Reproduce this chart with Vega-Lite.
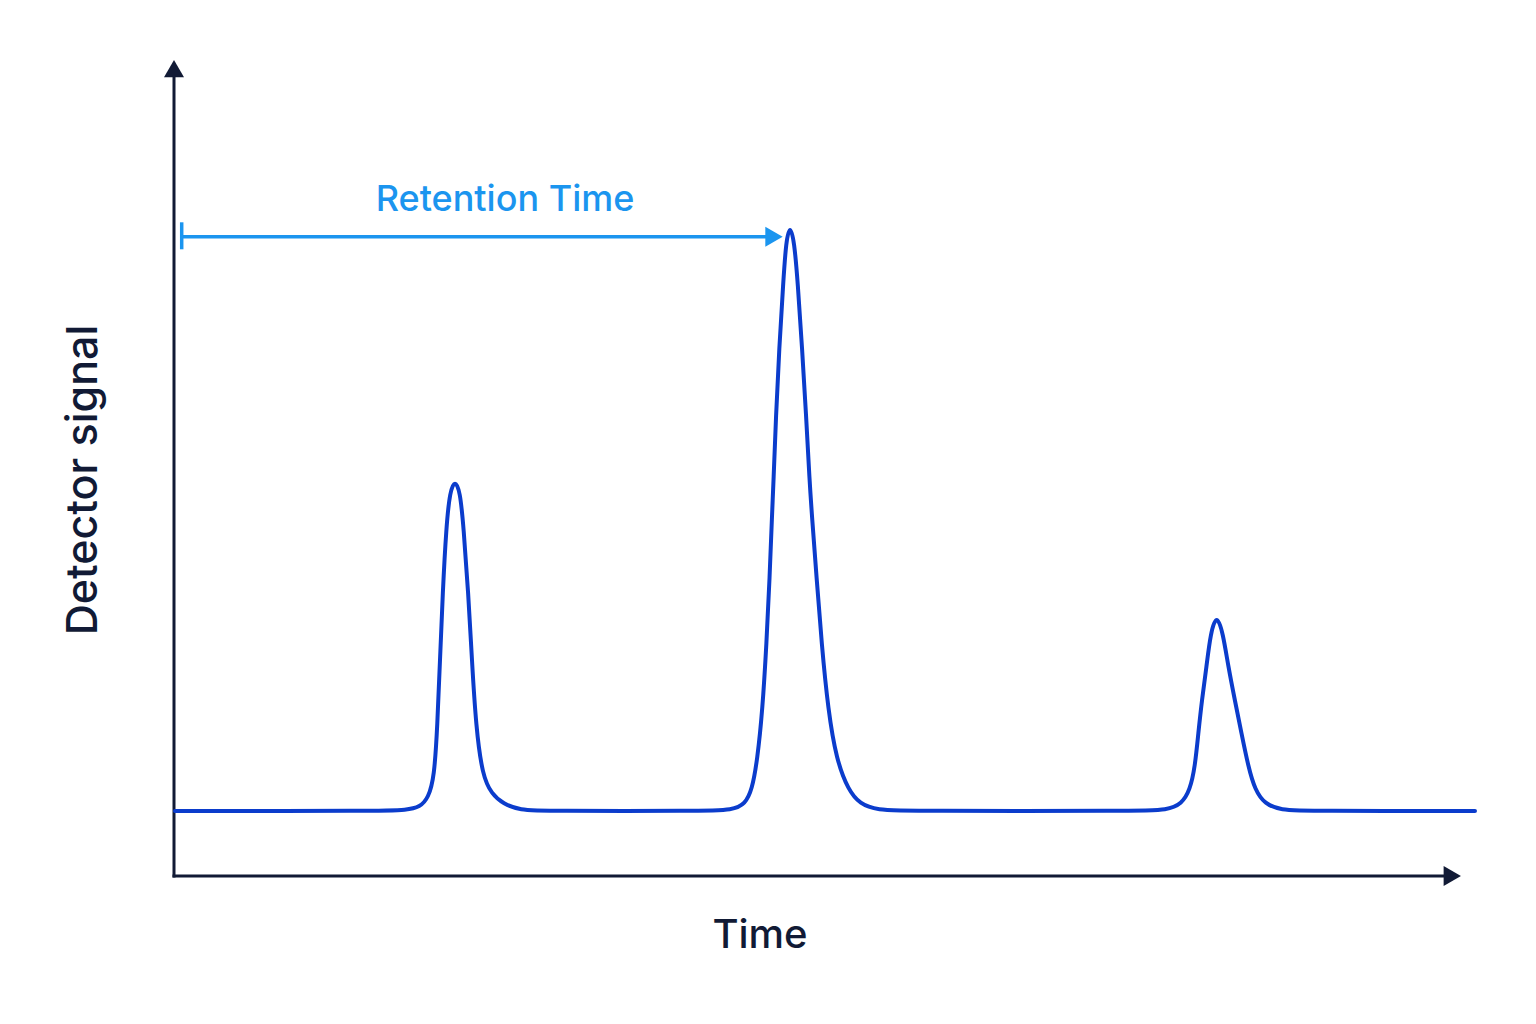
{
  "$schema": "https://vega.github.io/schema/vega-lite/v6.json",
  "width": 1301,
  "height": 816,
  "autosize": {"type": "none"},
  "padding": {"left": 174, "top": 60, "right": 61, "bottom": 148},
  "background": "#ffffff",
  "config": {"view": {"stroke": null}, "font": "Inter"},
  "datasets": {
    "signal": [
      {"t": 1, "s": 65}, {"t": 206, "s": 65}, {"t": 232.7, "s": 66}, {"t": 246, "s": 69},
      {"t": 254.3, "s": 78}, {"t": 260.3, "s": 99}, {"t": 263.3, "s": 149}, {"t": 266, "s": 216},
      {"t": 268.7, "s": 283}, {"t": 272.3, "s": 350}, {"t": 276, "s": 385}, {"t": 281, "s": 396},
      {"t": 286, "s": 385}, {"t": 289.5, "s": 350}, {"t": 294.3, "s": 283}, {"t": 297.9, "s": 216},
      {"t": 302, "s": 149}, {"t": 308.5, "s": 100}, {"t": 317.7, "s": 82}, {"t": 329.3, "s": 72},
      {"t": 346, "s": 66}, {"t": 371, "s": 65},
      {"t": 526, "s": 65}, {"t": 559.3, "s": 66}, {"t": 571, "s": 72}, {"t": 578, "s": 86},
      {"t": 583.3, "s": 116}, {"t": 588.5, "s": 166}, {"t": 592.5, "s": 232.7}, {"t": 595.7, "s": 299.3},
      {"t": 598, "s": 361}, {"t": 599.5, "s": 394}, {"t": 602, "s": 461}, {"t": 605.2, "s": 527.7},
      {"t": 609.3, "s": 594.3}, {"t": 612, "s": 634.3}, {"t": 616, "s": 652}, {"t": 620.3, "s": 634.3},
      {"t": 623.7, "s": 594.3}, {"t": 628.1, "s": 527.7}, {"t": 632.1, "s": 461}, {"t": 635.6, "s": 394},
      {"t": 637.9, "s": 361}, {"t": 642.5, "s": 299.3}, {"t": 647.6, "s": 232.7}, {"t": 654.1, "s": 166},
      {"t": 662.5, "s": 116}, {"t": 674.3, "s": 86}, {"t": 686, "s": 72}, {"t": 702.7, "s": 66},
      {"t": 736, "s": 65},
      {"t": 966, "s": 65}, {"t": 992.7, "s": 66}, {"t": 1007.7, "s": 72}, {"t": 1016, "s": 86},
      {"t": 1021, "s": 109.3}, {"t": 1024.3, "s": 142.7}, {"t": 1027.9, "s": 176}, {"t": 1032.5, "s": 209.3},
      {"t": 1036.5, "s": 242.7}, {"t": 1042.7, "s": 262.7}, {"t": 1049, "s": 242.7}, {"t": 1054.3, "s": 209.3},
      {"t": 1060.8, "s": 176}, {"t": 1067.5, "s": 142.7}, {"t": 1074.3, "s": 109.3}, {"t": 1081, "s": 86},
      {"t": 1091, "s": 72}, {"t": 1106, "s": 66}, {"t": 1136, "s": 65}, {"t": 1301, "s": 65}
    ],
    "axisLines": [
      {"t": 0, "s": 0, "t2": 1270, "s2": 0},
      {"t": 0, "s": 0, "t2": 0, "s2": 798}
    ],
    "axisHeads": [
      {"t": 1278.3, "s": 0, "dir": "x"},
      {"t": 0, "s": 807.3, "dir": "y"}
    ],
    "retention": [
      {"t": 7.7, "s": 639.3, "t2": 592, "s2": 639.3},
      {"t": 7.7, "s": 626.7, "t2": 7.7, "s2": 653.7}
    ],
    "retentionHead": [{"t": 600, "s": 639.3}],
    "labels": [
      {"t": 331, "s": 665, "text": "Retention Time", "kind": "note"},
      {"t": 586, "s": -72.3, "text": "Time", "kind": "axis"}
    ],
    "yTitle": [{"t": -76.7, "s": 396, "text": "Detector signal"}]
  },
  "encoding": {
    "x": {"field": "t", "type": "quantitative", "scale": {"domain": [0, 1301], "nice": false, "zero": false}, "axis": null},
    "y": {"field": "s", "type": "quantitative", "scale": {"domain": [0, 816], "nice": false, "zero": false}, "axis": null}
  },
  "layer": [
    {
      "data": {"name": "axisLines"},
      "mark": {"type": "rule", "color": "#111a35", "strokeWidth": 3, "strokeCap": "square"},
      "encoding": {"x2": {"field": "t2"}, "y2": {"field": "s2"}}
    },
    {
      "data": {"name": "axisHeads"},
      "mark": {"type": "point", "filled": true, "color": "#111a35", "opacity": 1, "size": 400},
      "encoding": {
        "shape": {"field": "dir", "type": "nominal", "scale": {"domain": ["x", "y"], "range": ["triangle-right", "triangle-up"]}, "legend": null}
      }
    },
    {
      "data": {"name": "retention"},
      "mark": {"type": "rule", "color": "#1b95ef", "strokeWidth": 3.5},
      "encoding": {"x2": {"field": "t2"}, "y2": {"field": "s2"}}
    },
    {
      "data": {"name": "retentionHead"},
      "mark": {"type": "point", "shape": "triangle-right", "filled": true, "color": "#1b95ef", "opacity": 1, "size": 400}
    },
    {
      "data": {"name": "signal"},
      "mark": {"type": "line", "color": "#0b3ccc", "strokeWidth": 4, "interpolate": "basis", "strokeJoin": "round", "strokeCap": "round"}
    },
    {
      "data": {"name": "labels"},
      "mark": {"type": "text", "align": "center", "baseline": "alphabetic", "fontWeight": 500},
      "encoding": {
        "text": {"field": "text"},
        "color": {"field": "kind", "type": "nominal", "scale": {"domain": ["note", "axis"], "range": ["#1b95ef", "#111a35"]}, "legend": null},
        "size": {"field": "kind", "type": "nominal", "scale": {"domain": ["note", "axis"], "range": [36, 40]}, "legend": null}
      }
    },
    {
      "data": {"name": "yTitle"},
      "mark": {"type": "text", "angle": 270, "align": "center", "baseline": "alphabetic", "fontSize": 43, "fontWeight": 500, "color": "#111a35"},
      "encoding": {"text": {"field": "text"}}
    }
  ]
}
